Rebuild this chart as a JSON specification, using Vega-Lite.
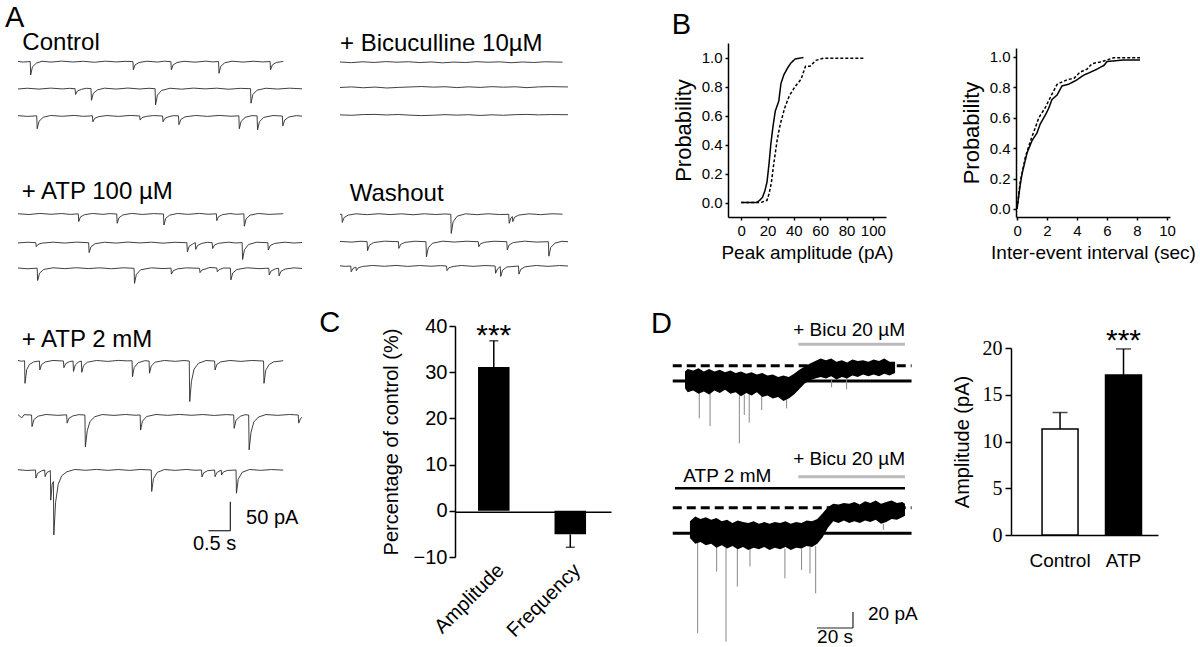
{
"$schema":"https://vega.github.io/schema/vega-lite/v6.json",
"width":1200,"height":647,"padding":0,"autosize":{"type":"none"},
"background":"white",
"config":{"font":"Liberation Sans","view":{"stroke":null},
 "axis":{"grid":false,"domainColor":"black","tickColor":"black","labelColor":"black","titleColor":"black","titleFontWeight":"normal","domainWidth":1.5,"tickWidth":1.5,"labelFlush":false,"labelOverlap":false}},
"datasets":{
"c1":[{"t":0,"v":0.5},{"t":0.12,"v":-0.6},{"t":0.28,"v":0.3},{"t":0.29,"v":-23},{"t":0.33,"v":-9},{"t":0.42,"v":-2.5},{"t":0.55,"v":0.8},{"t":0.75,"v":-0.7},{"t":1.0,"v":1.0},{"t":1.25,"v":-0.5},{"t":1.5,"v":0.7},{"t":1.75,"v":-1.0},{"t":2.0,"v":0.9},{"t":2.25,"v":-0.4},{"t":2.45,"v":0.6},{"t":2.63,"v":0.2},{"t":2.64,"v":-14},{"t":2.68,"v":-5.5},{"t":2.77,"v":-1.4},{"t":2.95,"v":0.8},{"t":3.2,"v":-0.6},{"t":3.35,"v":0.9},{"t":3.5,"v":0},{"t":3.51,"v":-14},{"t":3.55,"v":-5.5},{"t":3.64,"v":-1.4},{"t":3.8,"v":0.7},{"t":4.05,"v":-0.8},{"t":4.3,"v":1.0},{"t":4.45,"v":-0.3},{"t":4.59,"v":0.3},{"t":4.6,"v":-20},{"t":4.64,"v":-8},{"t":4.73,"v":-2},{"t":4.9,"v":0.9},{"t":5.15,"v":-0.7},{"t":5.4,"v":0.8},{"t":5.6,"v":-0.4},{"t":5.77,"v":0.3},{"t":5.78,"v":-14},{"t":5.82,"v":-5.5},{"t":5.91,"v":-1.4},{"t":6.07,"v":0.5}],
"c2":[{"t":0,"v":-0.5},{"t":0.2,"v":0.8},{"t":0.45,"v":-0.7},{"t":0.7,"v":1.0},{"t":0.95,"v":-0.4},{"t":1.1,"v":0.6},{"t":1.22,"v":0},{"t":1.23,"v":-10},{"t":1.27,"v":-4},{"t":1.36,"v":-1},{"t":1.46,"v":0.7},{"t":1.56,"v":0.2},{"t":1.57,"v":-20},{"t":1.61,"v":-8},{"t":1.7,"v":-2},{"t":1.85,"v":0.9},{"t":2.1,"v":-0.6},{"t":2.35,"v":1.1},{"t":2.6,"v":-0.5},{"t":2.8,"v":0.7},{"t":2.93,"v":0},{"t":2.94,"v":-28},{"t":2.98,"v":-11},{"t":3.07,"v":-3},{"t":3.25,"v":0.8},{"t":3.5,"v":-0.8},{"t":3.75,"v":1.0},{"t":4.0,"v":-0.3},{"t":4.25,"v":0.9},{"t":4.5,"v":-0.9},{"t":4.75,"v":0.6},{"t":4.97,"v":0},{"t":4.98,"v":-25},{"t":5.02,"v":-10},{"t":5.11,"v":-2.5},{"t":5.3,"v":0.8},{"t":5.55,"v":-0.6},{"t":5.8,"v":0.9},{"t":6.07,"v":-0.2}],
"c3":[{"t":0,"v":0.6},{"t":0.2,"v":-0.7},{"t":0.4,"v":0.3},{"t":0.41,"v":-22},{"t":0.45,"v":-9},{"t":0.54,"v":-2.2},{"t":0.7,"v":0.9},{"t":0.95,"v":-0.5},{"t":1.2,"v":1.0},{"t":1.4,"v":-0.6},{"t":1.59,"v":0.4},{"t":1.6,"v":-10},{"t":1.64,"v":-4},{"t":1.73,"v":-1},{"t":1.9,"v":0.8},{"t":2.15,"v":-0.7},{"t":2.4,"v":1.0},{"t":2.6,"v":0.1},{"t":2.61,"v":-7},{"t":2.65,"v":-2.8},{"t":2.74,"v":-0.7},{"t":2.9,"v":0.8},{"t":3.09,"v":0},{"t":3.1,"v":-10},{"t":3.14,"v":-4},{"t":3.23,"v":-1},{"t":3.33,"v":0.6},{"t":3.43,"v":0.2},{"t":3.44,"v":-15},{"t":3.48,"v":-6},{"t":3.57,"v":-1.5},{"t":3.8,"v":0.9},{"t":4.05,"v":-0.7},{"t":4.3,"v":1.0},{"t":4.55,"v":-0.4},{"t":4.72,"v":0.3},{"t":4.73,"v":-22},{"t":4.77,"v":-9},{"t":4.86,"v":-2.2},{"t":5.0,"v":0.7},{"t":5.11,"v":0.2},{"t":5.12,"v":-24},{"t":5.16,"v":-10},{"t":5.25,"v":-2.4},{"t":5.45,"v":0.8},{"t":5.65,"v":0},{"t":5.66,"v":-17},{"t":5.7,"v":-7},{"t":5.79,"v":-1.7},{"t":5.95,"v":0.7},{"t":6.07,"v":-0.3}],
"a1":[{"t":0,"v":0.4},{"t":0.25,"v":-0.9},{"t":0.5,"v":1.0},{"t":0.75,"v":-0.5},{"t":1.0,"v":0.8},{"t":1.2,"v":-0.7},{"t":1.38,"v":0.3},{"t":1.39,"v":-13},{"t":1.43,"v":-5},{"t":1.52,"v":-1.3},{"t":1.7,"v":0.9},{"t":1.95,"v":-0.6},{"t":2.1,"v":0.7},{"t":2.26,"v":0},{"t":2.27,"v":-16},{"t":2.31,"v":-6.5},{"t":2.4,"v":-1.6},{"t":2.6,"v":1.0},{"t":2.85,"v":-0.8},{"t":3.1,"v":0.7},{"t":3.33,"v":0},{"t":3.34,"v":-19},{"t":3.38,"v":-7.5},{"t":3.47,"v":-2},{"t":3.65,"v":0.9},{"t":3.9,"v":-0.6},{"t":4.15,"v":1.0},{"t":4.35,"v":-0.4},{"t":4.54,"v":0.3},{"t":4.55,"v":-11.5},{"t":4.59,"v":-4.6},{"t":4.68,"v":-1.2},{"t":4.85,"v":0.8},{"t":5.0,"v":-0.5},{"t":5.17,"v":0.2},{"t":5.18,"v":-21},{"t":5.22,"v":-8.5},{"t":5.31,"v":-2},{"t":5.5,"v":0.9},{"t":5.75,"v":-0.7},{"t":6.07,"v":0.5}],
"a2":[{"t":0,"v":-0.4},{"t":0.2,"v":0.8},{"t":0.38,"v":0},{"t":0.39,"v":-7},{"t":0.43,"v":-2.8},{"t":0.52,"v":-0.7},{"t":0.75,"v":0.9},{"t":1.0,"v":-0.6},{"t":1.25,"v":1.0},{"t":1.51,"v":0},{"t":1.52,"v":-17},{"t":1.56,"v":-7},{"t":1.65,"v":-1.7},{"t":1.85,"v":0.8},{"t":2.1,"v":-0.7},{"t":2.35,"v":1.1},{"t":2.6,"v":-0.4},{"t":2.85,"v":0.9},{"t":3.1,"v":-0.8},{"t":3.35,"v":0.7},{"t":3.61,"v":0},{"t":3.62,"v":-15.5},{"t":3.66,"v":-6},{"t":3.75,"v":-1.5},{"t":3.79,"v":0},{"t":3.8,"v":-11.5},{"t":3.84,"v":-4.6},{"t":3.93,"v":-1.2},{"t":4.05,"v":0.7},{"t":4.15,"v":0.1},{"t":4.16,"v":-10},{"t":4.2,"v":-4},{"t":4.29,"v":-1},{"t":4.5,"v":0.9},{"t":4.65,"v":-0.5},{"t":4.79,"v":0.2},{"t":4.8,"v":-29},{"t":4.84,"v":-12},{"t":4.93,"v":-3},{"t":5.1,"v":0.8},{"t":5.34,"v":0},{"t":5.35,"v":-12.6},{"t":5.39,"v":-5},{"t":5.48,"v":-1.3},{"t":5.7,"v":0.9},{"t":5.9,"v":-0.6},{"t":6.07,"v":0.4}],
"a3":[{"t":0,"v":0.5},{"t":0.2,"v":-0.8},{"t":0.41,"v":0.2},{"t":0.42,"v":-21},{"t":0.46,"v":-8.5},{"t":0.55,"v":-2},{"t":0.75,"v":0.9},{"t":1.0,"v":-0.6},{"t":1.25,"v":1.0},{"t":1.5,"v":-0.5},{"t":1.75,"v":0.8},{"t":2.0,"v":-0.8},{"t":2.25,"v":0.9},{"t":2.48,"v":0},{"t":2.49,"v":-26},{"t":2.53,"v":-10.5},{"t":2.62,"v":-2.6},{"t":2.85,"v":0.8},{"t":3.1,"v":-0.5},{"t":3.27,"v":0.3},{"t":3.28,"v":-10},{"t":3.32,"v":-4},{"t":3.41,"v":-1},{"t":3.6,"v":0.8},{"t":3.88,"v":0},{"t":3.89,"v":-7.5},{"t":3.93,"v":-3},{"t":4.02,"v":-0.8},{"t":4.1,"v":1.5},{"t":4.25,"v":0.5},{"t":4.26,"v":-6},{"t":4.3,"v":-2.4},{"t":4.39,"v":0.5},{"t":4.54,"v":0.3},{"t":4.55,"v":-20},{"t":4.59,"v":-8},{"t":4.68,"v":-2},{"t":4.9,"v":0.9},{"t":5.15,"v":-0.6},{"t":5.36,"v":0.2},{"t":5.37,"v":-11.5},{"t":5.41,"v":-4.6},{"t":5.5,"v":-1},{"t":5.57,"v":0},{"t":5.58,"v":-13},{"t":5.62,"v":-5.2},{"t":5.71,"v":-1.3},{"t":5.9,"v":0.8},{"t":6.07,"v":-0.3}],
"m1":[{"t":0,"v":1.0},{"t":0.08,"v":-0.5},{"t":0.15,"v":0.5},{"t":0.16,"v":-38.5},{"t":0.2,"v":-15},{"t":0.26,"v":-6},{"t":0.36,"v":-1.5},{"t":0.49,"v":0},{"t":0.5,"v":-15.5},{"t":0.54,"v":-6},{"t":0.63,"v":-1.5},{"t":0.8,"v":0.9},{"t":1.04,"v":0},{"t":1.05,"v":-11.5},{"t":1.09,"v":-4.6},{"t":1.18,"v":-1},{"t":1.26,"v":0},{"t":1.27,"v":-18},{"t":1.31,"v":-7},{"t":1.38,"v":-2},{"t":1.45,"v":0},{"t":1.46,"v":-19.5},{"t":1.5,"v":-8},{"t":1.59,"v":-2},{"t":1.8,"v":0.9},{"t":2.05,"v":-0.7},{"t":2.3,"v":1.0},{"t":2.5,"v":0.2},{"t":2.61,"v":0.5},{"t":2.62,"v":-27},{"t":2.66,"v":-11},{"t":2.75,"v":-3},{"t":2.9,"v":0.5},{"t":3.0,"v":0},{"t":3.01,"v":-21},{"t":3.05,"v":-8.5},{"t":3.14,"v":-2},{"t":3.35,"v":0.9},{"t":3.6,"v":-0.6},{"t":3.8,"v":0.8},{"t":3.92,"v":0},{"t":3.93,"v":-70},{"t":3.97,"v":-35},{"t":4.03,"v":-14},{"t":4.13,"v":-4},{"t":4.3,"v":0.8},{"t":4.5,"v":0},{"t":4.51,"v":-15.5},{"t":4.55,"v":-6},{"t":4.64,"v":-1.5},{"t":4.85,"v":0.9},{"t":5.1,"v":-0.7},{"t":5.35,"v":0.9},{"t":5.62,"v":0},{"t":5.63,"v":-38.5},{"t":5.67,"v":-16},{"t":5.75,"v":-6},{"t":5.85,"v":-1.5},{"t":6.07,"v":0.5}],
"m2":[{"t":0,"v":0.5},{"t":0.08,"v":-5},{"t":0.13,"v":0.5},{"t":0.29,"v":0},{"t":0.3,"v":-20},{"t":0.34,"v":-8},{"t":0.43,"v":-2},{"t":0.6,"v":0.9},{"t":0.85,"v":-0.6},{"t":1.04,"v":0.3},{"t":1.05,"v":-14},{"t":1.09,"v":-5.6},{"t":1.18,"v":-1.4},{"t":1.3,"v":0.6},{"t":1.43,"v":0},{"t":1.44,"v":-55},{"t":1.48,"v":-27},{"t":1.54,"v":-11},{"t":1.64,"v":-3},{"t":1.8,"v":0.8},{"t":2.05,"v":-0.7},{"t":2.3,"v":0.9},{"t":2.5,"v":-0.4},{"t":2.61,"v":0},{"t":2.62,"v":-26},{"t":2.66,"v":-10.5},{"t":2.75,"v":-2.6},{"t":2.95,"v":0.9},{"t":3.2,"v":-0.6},{"t":3.45,"v":1.0},{"t":3.7,"v":-0.5},{"t":3.95,"v":0.8},{"t":4.2,"v":-0.8},{"t":4.45,"v":0.7},{"t":4.61,"v":0},{"t":4.62,"v":-23},{"t":4.66,"v":-9},{"t":4.75,"v":-2.3},{"t":4.85,"v":0.5},{"t":4.93,"v":0},{"t":4.94,"v":-60},{"t":4.98,"v":-30},{"t":5.04,"v":-12},{"t":5.14,"v":-3.5},{"t":5.3,"v":0.8},{"t":5.55,"v":-0.6},{"t":5.8,"v":0.9},{"t":5.99,"v":0},{"t":6.0,"v":-14},{"t":6.04,"v":-6},{"t":6.07,"v":-4}],
"m3":[{"t":0,"v":0.5},{"t":0.2,"v":-0.8},{"t":0.4,"v":0},{"t":0.41,"v":-14},{"t":0.45,"v":-5.6},{"t":0.54,"v":-1.4},{"t":0.61,"v":0},{"t":0.62,"v":-11.5},{"t":0.66,"v":-4.6},{"t":0.74,"v":-1},{"t":0.75,"v":-52},{"t":0.78,"v":-25},{"t":0.81,"v":-20},{"t":0.82,"v":-112},{"t":0.86,"v":-56},{"t":0.92,"v":-25},{"t":1.0,"v":-10},{"t":1.12,"v":-3},{"t":1.3,"v":0.9},{"t":1.55,"v":-0.5},{"t":1.8,"v":1.0},{"t":2.05,"v":-0.6},{"t":2.3,"v":0.8},{"t":2.55,"v":-0.7},{"t":2.8,"v":0.9},{"t":3.05,"v":0},{"t":3.06,"v":-37},{"t":3.1,"v":-15},{"t":3.19,"v":-4},{"t":3.35,"v":0.8},{"t":3.6,"v":-0.6},{"t":3.85,"v":0.9},{"t":4.05,"v":-0.4},{"t":4.2,"v":0},{"t":4.21,"v":-12},{"t":4.25,"v":-4.8},{"t":4.34,"v":-1.2},{"t":4.5,"v":0},{"t":4.51,"v":-11.5},{"t":4.55,"v":-4.6},{"t":4.65,"v":0},{"t":4.66,"v":-8.6},{"t":4.7,"v":-3.4},{"t":4.79,"v":-0.8},{"t":4.99,"v":0},{"t":5.0,"v":-40},{"t":5.04,"v":-16},{"t":5.13,"v":-4},{"t":5.3,"v":0.9},{"t":5.55,"v":-0.6},{"t":5.8,"v":0.8},{"t":6.07,"v":-0.2}],
"k1":[{"t":0,"v":0.5},{"t":0.25,"v":-0.6},{"t":0.5,"v":0.9},{"t":0.75,"v":-0.3},{"t":1.0,"v":1.2},{"t":1.25,"v":0.2},{"t":1.5,"v":1.0},{"t":1.75,"v":-0.5},{"t":2.0,"v":0.6},{"t":2.25,"v":-0.9},{"t":2.5,"v":0.4},{"t":2.75,"v":-0.4},{"t":3.0,"v":1.1},{"t":3.25,"v":0.1},{"t":3.5,"v":0.8},{"t":3.75,"v":-0.7},{"t":4.0,"v":0.5},{"t":4.25,"v":-0.3},{"t":4.5,"v":0.9},{"t":4.88,"v":0.2}],
"k2":[{"t":0,"v":-0.3},{"t":0.25,"v":0.7},{"t":0.5,"v":-0.8},{"t":0.75,"v":0.4},{"t":1.0,"v":-1.2},{"t":1.25,"v":-0.2},{"t":1.5,"v":0.6},{"t":1.75,"v":1.3},{"t":2.0,"v":0.3},{"t":2.25,"v":1.0},{"t":2.5,"v":-0.5},{"t":2.75,"v":0.8},{"t":3.0,"v":-0.2},{"t":3.25,"v":1.1},{"t":3.5,"v":0.2},{"t":3.75,"v":0.9},{"t":4.0,"v":-0.6},{"t":4.25,"v":0.7},{"t":4.5,"v":1.2},{"t":4.88,"v":0.6}],
"k3":[{"t":0,"v":0.2},{"t":0.25,"v":-0.5},{"t":0.5,"v":0.8},{"t":0.75,"v":1.0},{"t":1.0,"v":0.1},{"t":1.25,"v":0.9},{"t":1.5,"v":-0.3},{"t":1.75,"v":-1.0},{"t":2.0,"v":-0.4},{"t":2.25,"v":0.6},{"t":2.5,"v":-0.2},{"t":2.75,"v":0.5},{"t":3.0,"v":-0.8},{"t":3.25,"v":0.3},{"t":3.5,"v":-0.5},{"t":3.75,"v":0.6},{"t":4.0,"v":1.0},{"t":4.25,"v":0.2},{"t":4.5,"v":0.8},{"t":4.88,"v":0.5}],
"w1":[{"t":0,"v":0},{"t":0.04,"v":0},{"t":0.05,"v":-14},{"t":0.09,"v":-5.6},{"t":0.18,"v":-1.4},{"t":0.35,"v":0.8},{"t":0.6,"v":-0.6},{"t":0.85,"v":1.0},{"t":1.1,"v":-0.5},{"t":1.35,"v":0.8},{"t":1.6,"v":-0.8},{"t":1.85,"v":0.9},{"t":2.1,"v":-0.4},{"t":2.3,"v":0.6},{"t":2.43,"v":0},{"t":2.44,"v":-33},{"t":2.48,"v":-13},{"t":2.57,"v":-3.3},{"t":2.75,"v":0.8},{"t":3.0,"v":-0.6},{"t":3.25,"v":0.9},{"t":3.5,"v":-0.4},{"t":3.7,"v":0},{"t":3.71,"v":-15.5},{"t":3.75,"v":-6},{"t":3.78,"v":-4},{"t":3.79,"v":-12.6},{"t":3.83,"v":-5},{"t":3.92,"v":-1.3},{"t":4.15,"v":0.8},{"t":4.4,"v":-0.6},{"t":4.65,"v":0.9},{"t":4.88,"v":0.2}],
"w2":[{"t":0,"v":0.5},{"t":0.25,"v":-0.7},{"t":0.45,"v":0.8},{"t":0.58,"v":0},{"t":0.59,"v":-15.5},{"t":0.63,"v":-6},{"t":0.72,"v":-1.5},{"t":0.95,"v":0.9},{"t":1.25,"v":0},{"t":1.26,"v":-11.5},{"t":1.3,"v":-4.6},{"t":1.39,"v":-1.2},{"t":1.6,"v":0.8},{"t":1.84,"v":0},{"t":1.85,"v":-26},{"t":1.89,"v":-10.5},{"t":1.98,"v":-2.6},{"t":2.2,"v":0.9},{"t":2.45,"v":-0.6},{"t":2.7,"v":0.8},{"t":2.96,"v":0},{"t":2.97,"v":-8.6},{"t":3.01,"v":-3.4},{"t":3.1,"v":-0.9},{"t":3.3,"v":0.8},{"t":3.57,"v":0},{"t":3.58,"v":-14},{"t":3.62,"v":-5.6},{"t":3.71,"v":-1.4},{"t":3.95,"v":0.9},{"t":4.2,"v":-0.6},{"t":4.46,"v":0},{"t":4.47,"v":-25},{"t":4.51,"v":-10},{"t":4.6,"v":-2.5},{"t":4.75,"v":0.7},{"t":4.88,"v":0}],
"w3":[{"t":0,"v":0.3},{"t":0.12,"v":-0.6},{"t":0.23,"v":0},{"t":0.24,"v":-10},{"t":0.28,"v":-4},{"t":0.34,"v":-2},{"t":0.35,"v":-8},{"t":0.39,"v":-3.2},{"t":0.48,"v":-0.8},{"t":0.7,"v":0.9},{"t":0.95,"v":-0.5},{"t":1.2,"v":1.0},{"t":1.45,"v":-0.7},{"t":1.7,"v":0.8},{"t":1.95,"v":-0.4},{"t":2.15,"v":0.6},{"t":2.28,"v":0},{"t":2.29,"v":-8},{"t":2.33,"v":-3.2},{"t":2.42,"v":-0.8},{"t":2.6,"v":0.9},{"t":2.85,"v":-0.6},{"t":3.1,"v":0.8},{"t":3.32,"v":0},{"t":3.33,"v":-12.6},{"t":3.37,"v":-5},{"t":3.43,"v":-1},{"t":3.44,"v":-18},{"t":3.48,"v":-7},{"t":3.57,"v":-1.8},{"t":3.82,"v":0},{"t":3.83,"v":-14},{"t":3.87,"v":-5.6},{"t":3.96,"v":-1.4},{"t":4.2,"v":0.9},{"t":4.45,"v":-0.6},{"t":4.7,"v":0.8},{"t":4.88,"v":0}],
"bamp":[{"x":0,"p":0,"g":"Control"},{"x":11.7,"p":0,"g":"Control"},{"x":14,"p":0.015,"g":"Control"},{"x":16.2,"p":0.036,"g":"Control"},{"x":18,"p":0.08,"g":"Control"},{"x":19.6,"p":0.14,"g":"Control"},{"x":21.2,"p":0.27,"g":"Control"},{"x":22.5,"p":0.4,"g":"Control"},{"x":24.1,"p":0.52,"g":"Control"},{"x":25.9,"p":0.63,"g":"Control"},{"x":28.6,"p":0.7,"g":"Control"},{"x":30.2,"p":0.82,"g":"Control"},{"x":32.4,"p":0.88,"g":"Control"},{"x":35.4,"p":0.93,"g":"Control"},{"x":37.6,"p":0.96,"g":"Control"},{"x":41,"p":0.99,"g":"Control"},{"x":47.3,"p":1.0,"g":"Control"},
{"x":0,"p":0,"g":"ATP"},{"x":15,"p":0,"g":"ATP"},{"x":19.6,"p":0.015,"g":"ATP"},{"x":21.2,"p":0.06,"g":"ATP"},{"x":23,"p":0.14,"g":"ATP"},{"x":24.8,"p":0.27,"g":"ATP"},{"x":27.5,"p":0.44,"g":"ATP"},{"x":29.7,"p":0.54,"g":"ATP"},{"x":33,"p":0.65,"g":"ATP"},{"x":36.5,"p":0.735,"g":"ATP"},{"x":41,"p":0.8,"g":"ATP"},{"x":45.5,"p":0.85,"g":"ATP"},{"x":48.9,"p":0.94,"g":"ATP"},{"x":52.3,"p":0.94,"g":"ATP"},{"x":56.8,"p":0.98,"g":"ATP"},{"x":62.4,"p":0.995,"g":"ATP"},{"x":94,"p":0.995,"g":"ATP"}],
"biei":[{"x":0,"p":0,"g":"Control"},{"x":0.2,"p":0.15,"g":"Control"},{"x":0.33,"p":0.23,"g":"Control"},{"x":0.67,"p":0.37,"g":"Control"},{"x":1,"p":0.45,"g":"Control"},{"x":1.33,"p":0.5,"g":"Control"},{"x":1.55,"p":0.56,"g":"Control"},{"x":1.9,"p":0.62,"g":"Control"},{"x":2.1,"p":0.66,"g":"Control"},{"x":2.33,"p":0.72,"g":"Control"},{"x":2.67,"p":0.75,"g":"Control"},{"x":3,"p":0.81,"g":"Control"},{"x":3.44,"p":0.82,"g":"Control"},{"x":4,"p":0.85,"g":"Control"},{"x":4.44,"p":0.88,"g":"Control"},{"x":4.9,"p":0.9,"g":"Control"},{"x":5.33,"p":0.92,"g":"Control"},{"x":5.8,"p":0.945,"g":"Control"},{"x":6,"p":0.97,"g":"Control"},{"x":7.1,"p":0.98,"g":"Control"},{"x":8.2,"p":0.98,"g":"Control"},
{"x":0,"p":0,"g":"ATP"},{"x":0.2,"p":0.17,"g":"ATP"},{"x":0.55,"p":0.34,"g":"ATP"},{"x":0.9,"p":0.45,"g":"ATP"},{"x":1.2,"p":0.53,"g":"ATP"},{"x":1.45,"p":0.6,"g":"ATP"},{"x":1.9,"p":0.67,"g":"ATP"},{"x":2.3,"p":0.75,"g":"ATP"},{"x":2.67,"p":0.82,"g":"ATP"},{"x":3.33,"p":0.85,"g":"ATP"},{"x":3.8,"p":0.86,"g":"ATP"},{"x":4.2,"p":0.9,"g":"ATP"},{"x":4.67,"p":0.92,"g":"ATP"},{"x":5,"p":0.956,"g":"ATP"},{"x":5.55,"p":0.967,"g":"ATP"},{"x":6,"p":0.98,"g":"ATP"},{"x":6.45,"p":0.995,"g":"ATP"},{"x":8.2,"p":0.995,"g":"ATP"}],
"cbar":[{"m":"Amplitude","val":31.1,"err":36.8},{"m":"Frequency","val":-5.1,"err":-7.9}],
"dbar":[{"g":"Control","val":11.35,"err":13.1},{"g":"ATP","val":17.1,"err":19.9}],
"d1":[{"t":0,"lo":-9,"hi":12},{"t":1.5,"lo":-14,"hi":15},{"t":4.5,"lo":-12,"hi":13},{"t":7.4,"lo":-16,"hi":16},{"t":10.3,"lo":-13,"hi":12},{"t":13.2,"lo":-17,"hi":15},{"t":16.1,"lo":-12,"hi":12},{"t":19,"lo":-15,"hi":14},{"t":21.9,"lo":-11,"hi":11},{"t":24.8,"lo":-16,"hi":13},{"t":27.7,"lo":-14,"hi":10},{"t":30.6,"lo":-19,"hi":12},{"t":33.5,"lo":-15,"hi":9},{"t":36.4,"lo":-18,"hi":11},{"t":39.3,"lo":-14,"hi":8},{"t":42.2,"lo":-20,"hi":10},{"t":45.1,"lo":-18,"hi":7},{"t":48,"lo":-22,"hi":8},{"t":50.9,"lo":-20,"hi":5},{"t":53.8,"lo":-25,"hi":7},{"t":56.7,"lo":-22,"hi":5},{"t":59.6,"lo":-17,"hi":9},{"t":62.5,"lo":-10,"hi":14},{"t":65.4,"lo":-3,"hi":18},{"t":68.3,"lo":1,"hi":22},{"t":71.2,"lo":3,"hi":25},{"t":74.1,"lo":5,"hi":28},{"t":77,"lo":3,"hi":26},{"t":79.9,"lo":6,"hi":28},{"t":82.8,"lo":2,"hi":24},{"t":85.7,"lo":5,"hi":26},{"t":88.6,"lo":3,"hi":23},{"t":91.5,"lo":7,"hi":27},{"t":94.4,"lo":5,"hi":25},{"t":97.3,"lo":8,"hi":26},{"t":100.2,"lo":6,"hi":24},{"t":103.1,"lo":8,"hi":27},{"t":106,"lo":6,"hi":25},{"t":108.9,"lo":9,"hi":28},{"t":111.8,"lo":7,"hi":24},{"t":114.8,"lo":10,"hi":24}],
"d1s":[{"t":7.8,"a":-14,"b":-46.7},{"t":13.7,"a":-15,"b":-56.3},{"t":29.7,"a":-17,"b":-77.9},{"t":32.4,"a":-17,"b":-42.5},{"t":35.1,"a":-16,"b":-52},{"t":41.9,"a":-19,"b":-36.3},{"t":55.5,"a":-23,"b":-34.2},{"t":80.1,"a":3,"b":-7.9},{"t":88.3,"a":4,"b":-10.4}],
"d2":[{"t":2.7,"lo":-6,"hi":15},{"t":5.6,"lo":-13,"hi":21},{"t":8.5,"lo":-11,"hi":18},{"t":11.4,"lo":-15,"hi":20},{"t":14.3,"lo":-13,"hi":17},{"t":17.2,"lo":-18,"hi":19},{"t":20.1,"lo":-15,"hi":15},{"t":23,"lo":-19,"hi":17},{"t":25.9,"lo":-16,"hi":13},{"t":28.8,"lo":-20,"hi":16},{"t":31.7,"lo":-17,"hi":14},{"t":34.6,"lo":-21,"hi":13},{"t":37.5,"lo":-18,"hi":15},{"t":40.4,"lo":-20,"hi":12},{"t":43.3,"lo":-17,"hi":14},{"t":46.2,"lo":-21,"hi":12},{"t":49.1,"lo":-18,"hi":14},{"t":52,"lo":-20,"hi":13},{"t":54.9,"lo":-17,"hi":15},{"t":57.8,"lo":-21,"hi":12},{"t":60.7,"lo":-18,"hi":14},{"t":63.6,"lo":-19,"hi":13},{"t":66.5,"lo":-16,"hi":16},{"t":69.4,"lo":-17,"hi":15},{"t":72.3,"lo":-13,"hi":18},{"t":75.2,"lo":-5,"hi":25},{"t":78.1,"lo":7,"hi":33},{"t":81,"lo":15,"hi":37},{"t":83.9,"lo":13,"hi":36},{"t":86.8,"lo":16,"hi":38},{"t":89.7,"lo":13,"hi":37},{"t":92.6,"lo":15,"hi":39},{"t":95.5,"lo":13,"hi":36},{"t":98.4,"lo":16,"hi":40},{"t":101.3,"lo":14,"hi":38},{"t":104.2,"lo":17,"hi":41},{"t":107.1,"lo":12,"hi":37},{"t":110,"lo":14,"hi":39},{"t":112.9,"lo":18,"hi":41},{"t":115.8,"lo":17,"hi":38},{"t":118.7,"lo":20,"hi":39},{"t":120.2,"lo":22,"hi":37}],
"d2s":[{"t":6.9,"a":-12,"b":-125},{"t":17.3,"a":-17,"b":-47.9},{"t":22.4,"a":-18,"b":-135.4},{"t":28.6,"a":-19,"b":-66.6},{"t":35.5,"a":-20,"b":-41.6},{"t":54.6,"a":-19,"b":-56.2},{"t":63.7,"a":-19,"b":-45.8},{"t":68.3,"a":-17,"b":-50},{"t":71.4,"a":-16,"b":-75},{"t":108.4,"a":12,"b":4.2}]
},
"resolve":{"scale":{"x":"independent","y":"independent"},"axis":{"x":"independent","y":"independent"}},
"layer":[
{"layer":[
 {"data":{"name":"c1"},"mark":{"type":"line","color":"#2a2a2a","strokeWidth":0.9},"encoding":{"x":{"field":"t","type":"quantitative","scale":{"domain":[0,6.07],"range":[18,302]},"axis":null},"y":{"field":"v","type":"quantitative","scale":{"domain":[-100,0],"range":[119.7,61.7]},"axis":null}}},
 {"data":{"values":[{}]},"mark":{"type":"text","text":"A","fontSize":29,"align":"left","baseline":"alphabetic"},"encoding":{"x":{"datum":-0.3,"type":"quantitative"},"y":{"datum":59.8,"type":"quantitative"}}},
 {"data":{"values":[{}]},"mark":{"type":"text","text":"Control","fontSize":24,"align":"left","baseline":"alphabetic"},"encoding":{"x":{"datum":0.1,"type":"quantitative"},"y":{"datum":20.2,"type":"quantitative"}}}
]},
{"data":{"name":"c2"},"mark":{"type":"line","color":"#2a2a2a","strokeWidth":0.9},"encoding":{"x":{"field":"t","type":"quantitative","scale":{"domain":[0,6.07],"range":[18,302]},"axis":null},"y":{"field":"v","type":"quantitative","scale":{"domain":[-100,0],"range":[146.7,88.7]},"axis":null}}},
{"data":{"name":"c3"},"mark":{"type":"line","color":"#2a2a2a","strokeWidth":0.9},"encoding":{"x":{"field":"t","type":"quantitative","scale":{"domain":[0,6.07],"range":[18,302]},"axis":null},"y":{"field":"v","type":"quantitative","scale":{"domain":[-100,0],"range":[174,116]},"axis":null}}},
{"layer":[
 {"data":{"name":"k1"},"mark":{"type":"line","color":"#2a2a2a","strokeWidth":0.9},"encoding":{"x":{"field":"t","type":"quantitative","scale":{"domain":[0,4.88],"range":[340,568]},"axis":null},"y":{"field":"v","type":"quantitative","scale":{"domain":[-100,0],"range":[120.3,62.3]},"axis":null}}},
 {"data":{"values":[{}]},"mark":{"type":"text","text":"+ Bicuculline 10µM","fontSize":24,"align":"left","baseline":"alphabetic"},"encoding":{"x":{"datum":0,"type":"quantitative"},"y":{"datum":19.5,"type":"quantitative"}}}
]},
{"data":{"name":"k2"},"mark":{"type":"line","color":"#2a2a2a","strokeWidth":0.9},"encoding":{"x":{"field":"t","type":"quantitative","scale":{"domain":[0,4.88],"range":[340,568]},"axis":null},"y":{"field":"v","type":"quantitative","scale":{"domain":[-100,0],"range":[145.3,87.3]},"axis":null}}},
{"data":{"name":"k3"},"mark":{"type":"line","color":"#2a2a2a","strokeWidth":0.9},"encoding":{"x":{"field":"t","type":"quantitative","scale":{"domain":[0,4.88],"range":[340,568]},"axis":null},"y":{"field":"v","type":"quantitative","scale":{"domain":[-100,0],"range":[173,115]},"axis":null}}},
{"layer":[
 {"data":{"name":"a1"},"mark":{"type":"line","color":"#2a2a2a","strokeWidth":0.9},"encoding":{"x":{"field":"t","type":"quantitative","scale":{"domain":[0,6.07],"range":[18,302]},"axis":null},"y":{"field":"v","type":"quantitative","scale":{"domain":[-100,0],"range":[272,214]},"axis":null}}},
 {"data":{"values":[{}]},"mark":{"type":"text","text":"+ ATP 100 µM","fontSize":24,"align":"left","baseline":"alphabetic"},"encoding":{"x":{"datum":0.086,"type":"quantitative"},"y":{"datum":25.9,"type":"quantitative"}}}
]},
{"data":{"name":"a2"},"mark":{"type":"line","color":"#2a2a2a","strokeWidth":0.9},"encoding":{"x":{"field":"t","type":"quantitative","scale":{"domain":[0,6.07],"range":[18,302]},"axis":null},"y":{"field":"v","type":"quantitative","scale":{"domain":[-100,0],"range":[300.7,242.7]},"axis":null}}},
{"data":{"name":"a3"},"mark":{"type":"line","color":"#2a2a2a","strokeWidth":0.9},"encoding":{"x":{"field":"t","type":"quantitative","scale":{"domain":[0,6.07],"range":[18,302]},"axis":null},"y":{"field":"v","type":"quantitative","scale":{"domain":[-100,0],"range":[326.3,268.3]},"axis":null}}},
{"layer":[
 {"data":{"name":"w1"},"mark":{"type":"line","color":"#2a2a2a","strokeWidth":0.9},"encoding":{"x":{"field":"t","type":"quantitative","scale":{"domain":[0,4.88],"range":[340,568]},"axis":null},"y":{"field":"v","type":"quantitative","scale":{"domain":[-100,0],"range":[272.3,214.3]},"axis":null}}},
 {"data":{"values":[{}]},"mark":{"type":"text","text":"Washout","fontSize":24,"align":"left","baseline":"alphabetic"},"encoding":{"x":{"datum":0.214,"type":"quantitative"},"y":{"datum":22.9,"type":"quantitative"}}}
]},
{"data":{"name":"w2"},"mark":{"type":"line","color":"#2a2a2a","strokeWidth":0.9},"encoding":{"x":{"field":"t","type":"quantitative","scale":{"domain":[0,4.88],"range":[340,568]},"axis":null},"y":{"field":"v","type":"quantitative","scale":{"domain":[-100,0],"range":[299.7,241.7]},"axis":null}}},
{"data":{"name":"w3"},"mark":{"type":"line","color":"#2a2a2a","strokeWidth":0.9},"encoding":{"x":{"field":"t","type":"quantitative","scale":{"domain":[0,4.88],"range":[340,568]},"axis":null},"y":{"field":"v","type":"quantitative","scale":{"domain":[-100,0],"range":[324,266]},"axis":null}}},
{"layer":[
 {"data":{"name":"m1"},"mark":{"type":"line","color":"#2a2a2a","strokeWidth":0.9},"encoding":{"x":{"field":"t","type":"quantitative","scale":{"domain":[0,6.07],"range":[18,302]},"axis":null},"y":{"field":"v","type":"quantitative","scale":{"domain":[-100,0],"range":[419,361]},"axis":null}}},
 {"data":{"values":[{}]},"mark":{"type":"text","text":"+ ATP 2 mM","fontSize":24,"align":"left","baseline":"alphabetic"},"encoding":{"x":{"datum":0.086,"type":"quantitative"},"y":{"datum":24.1,"type":"quantitative"}}},
 {"data":{"values":[{}]},"mark":{"type":"text","text":"C","fontSize":29,"align":"left","baseline":"alphabetic"},"encoding":{"x":{"datum":6.895,"type":"quantitative"},"y":{"datum":50,"type":"quantitative"}}}
]},
{"data":{"name":"m2"},"mark":{"type":"line","color":"#2a2a2a","strokeWidth":0.9},"encoding":{"x":{"field":"t","type":"quantitative","scale":{"domain":[0,6.07],"range":[18,302]},"axis":null},"y":{"field":"v","type":"quantitative","scale":{"domain":[-100,0],"range":[473,415]},"axis":null}}},
{"layer":[
 {"data":{"name":"m3"},"mark":{"type":"line","color":"#2a2a2a","strokeWidth":0.9},"encoding":{"x":{"field":"t","type":"quantitative","scale":{"domain":[0,6.07],"range":[18,302]},"axis":null},"y":{"field":"v","type":"quantitative","scale":{"domain":[-100,0],"range":[528,470]},"axis":null}}},
 {"data":{"values":[{}]},"mark":{"type":"rule","color":"#222","strokeWidth":1.2},"encoding":{"x":{"datum":4.86,"type":"quantitative"},"y":{"datum":-54.7,"type":"quantitative"},"y2":{"datum":-104.7}}},
 {"data":{"values":[{}]},"mark":{"type":"rule","color":"#222","strokeWidth":1.2},"encoding":{"x":{"datum":4.36,"type":"quantitative"},"x2":{"datum":4.86},"y":{"datum":-104.7,"type":"quantitative"}}},
 {"data":{"values":[{}]},"mark":{"type":"text","text":"50 pA","fontSize":20,"align":"left","baseline":"middle"},"encoding":{"x":{"datum":5.22,"type":"quantitative"},"y":{"datum":-82.8,"type":"quantitative"}}},
 {"data":{"values":[{}]},"mark":{"type":"text","text":"0.5 s","fontSize":20,"align":"center","baseline":"alphabetic"},"encoding":{"x":{"datum":4.5,"type":"quantitative"},"y":{"datum":-138,"type":"quantitative"}}}
]},
{"layer":[
 {"data":{"name":"bamp"},"mark":{"type":"line","color":"black","strokeWidth":1.5},"encoding":{
   "x":{"field":"x","type":"quantitative","scale":{"domain":[-0.7,106.1],"range":[728,886]},"axis":{"orient":"bottom","offset":-430,"values":[0,20,40,60,80,100],"title":"Peak amplitude (pA)","labelFontSize":15,"titleFontSize":19,"tickSize":3,"labelPadding":3,"titlePadding":5}},
   "y":{"field":"p","type":"quantitative","scale":{"domain":[-0.051,1.057],"range":[217,43]},"axis":{"orient":"left","offset":-728,"values":[0,0.2,0.4,0.6,0.8,1],"format":".1f","title":"Probability","labelFontSize":15,"titleFontSize":22,"tickSize":3,"labelPadding":3,"titlePadding":6}},
   "strokeDash":{"field":"g","type":"nominal","scale":{"domain":["Control","ATP"],"range":[[1,0],[3,2]]},"legend":null}}},
 {"data":{"values":[{}]},"mark":{"type":"text","text":"B","fontSize":29,"align":"left","baseline":"alphabetic"},"encoding":{"x":{"datum":-52.7,"type":"quantitative"},"y":{"datum":1.159,"type":"quantitative"}}}
]},
{"data":{"name":"biei"},"mark":{"type":"line","color":"black","strokeWidth":1.5},"encoding":{
   "x":{"field":"x","type":"quantitative","scale":{"domain":[-0.07,10.2],"range":[1016,1170]},"axis":{"orient":"bottom","offset":-430,"values":[0,2,4,6,8,10],"title":"Inter-event interval (sec)","labelFontSize":15,"titleFontSize":19,"tickSize":3,"labelPadding":3,"titlePadding":5}},
   "y":{"field":"p","type":"quantitative","scale":{"domain":[-0.053,1.059],"range":[217,48]},"axis":{"orient":"left","offset":-1016,"values":[0,0.2,0.4,0.6,0.8,1],"format":".1f","title":"Probability","labelFontSize":15,"titleFontSize":22,"tickSize":3,"labelPadding":3,"titlePadding":6}},
   "strokeDash":{"field":"g","type":"nominal","scale":{"domain":["Control","ATP"],"range":[[1,0],[3,2]]},"legend":null}}},
{"layer":[
 {"data":{"name":"cbar"},"mark":{"type":"bar","color":"black"},"encoding":{
   "x":{"field":"m","type":"nominal","scale":{"domain":["Amplitude","Frequency"],"range":[455,611],"paddingInner":0.588,"paddingOuter":0.3136,"align":0.48},"axis":{"orient":"bottom","offset":-135.3,"labelAngle":-45,"ticks":false,"labelPadding":48,"title":null,"labelFontSize":20}},
   "y":{"field":"val","type":"quantitative","scale":{"domain":[-10,40],"range":[557,326]},"axis":{"orient":"left","offset":-455,"values":[-10,0,10,20,30,40],"title":"Percentage of control (%)","labelFontSize":20,"titleFontSize":20,"tickSize":6,"labelPadding":2,"titlePadding":12}}}},
 {"data":{"name":"cbar"},"mark":{"type":"rule","color":"black","strokeWidth":1.5},"encoding":{"x":{"field":"m","type":"nominal"},"y":{"field":"val","type":"quantitative"},"y2":{"field":"err"}}},
 {"data":{"name":"cbar"},"mark":{"type":"tick","color":"black","thickness":1.5,"size":9},"encoding":{"x":{"field":"m","type":"nominal"},"y":{"field":"err","type":"quantitative"}}},
 {"data":{"values":[{}]},"mark":{"type":"text","text":"***","fontSize":30,"align":"center","baseline":"alphabetic"},"encoding":{"x":{"datum":"Amplitude","type":"nominal"},"y":{"datum":35.9,"type":"quantitative"}}}
]},
{"layer":[
 {"data":{"values":[{}]},"mark":{"type":"rule","color":"black","strokeWidth":3},"encoding":{"x":{"datum":-6.7,"type":"quantitative","scale":{"domain":[0,100],"range":[685,868]},"axis":null},"x2":{"datum":123.8},"y":{"datum":0,"type":"quantitative","scale":{"domain":[0,50],"range":[381,341]},"axis":null}}},
 {"data":{"values":[{}]},"mark":{"type":"rule","color":"black","strokeWidth":3,"strokeDash":[9,5]},"encoding":{"x":{"datum":-6.7,"type":"quantitative"},"x2":{"datum":123.8},"y":{"datum":19,"type":"quantitative"}}},
 {"data":{"name":"d1s"},"mark":{"type":"rule","color":"#888","strokeWidth":1},"encoding":{"x":{"field":"t","type":"quantitative"},"y":{"field":"a","type":"quantitative"},"y2":{"field":"b"}}},
 {"data":{"name":"d1"},"mark":{"type":"area","color":"black","opacity":1},"encoding":{"x":{"field":"t","type":"quantitative"},"y":{"field":"lo","type":"quantitative"},"y2":{"field":"hi"}}},
 {"data":{"values":[{}]},"mark":{"type":"rule","color":"#bbbbbb","strokeWidth":3},"encoding":{"x":{"datum":61.9,"type":"quantitative"},"x2":{"datum":120.2},"y":{"datum":45.8,"type":"quantitative"}}},
 {"data":{"values":[{}]},"mark":{"type":"text","text":"+ Bicu 20 µM","fontSize":19,"align":"right","baseline":"alphabetic"},"encoding":{"x":{"datum":120.2,"type":"quantitative"},"y":{"datum":56,"type":"quantitative"}}},
 {"data":{"values":[{}]},"mark":{"type":"text","text":"D","fontSize":29,"align":"left","baseline":"alphabetic"},"encoding":{"x":{"datum":-18.6,"type":"quantitative"},"y":{"datum":60,"type":"quantitative"}}}
]},
{"layer":[
 {"data":{"values":[{}]},"mark":{"type":"rule","color":"black","strokeWidth":3},"encoding":{"x":{"datum":-6.7,"type":"quantitative","scale":{"domain":[0,100],"range":[685,868]},"axis":null},"x2":{"datum":123.8},"y":{"datum":0,"type":"quantitative","scale":{"domain":[0,50],"range":[533.3,493.3]},"axis":null}}},
 {"data":{"values":[{}]},"mark":{"type":"rule","color":"black","strokeWidth":3,"strokeDash":[9,5]},"encoding":{"x":{"datum":-6.7,"type":"quantitative"},"x2":{"datum":123.8},"y":{"datum":32,"type":"quantitative"}}},
 {"data":{"name":"d2s"},"mark":{"type":"rule","color":"#888","strokeWidth":1},"encoding":{"x":{"field":"t","type":"quantitative"},"y":{"field":"a","type":"quantitative"},"y2":{"field":"b"}}},
 {"data":{"name":"d2"},"mark":{"type":"area","color":"black","opacity":1},"encoding":{"x":{"field":"t","type":"quantitative"},"y":{"field":"lo","type":"quantitative"},"y2":{"field":"hi"}}},
 {"data":{"values":[{}]},"mark":{"type":"rule","color":"black","strokeWidth":2.5},"encoding":{"x":{"datum":-5.5,"type":"quantitative"},"x2":{"datum":120.2},"y":{"datum":56.25,"type":"quantitative"}}},
 {"data":{"values":[{}]},"mark":{"type":"rule","color":"#bbbbbb","strokeWidth":3},"encoding":{"x":{"datum":61.9,"type":"quantitative"},"x2":{"datum":120.2},"y":{"datum":70.8,"type":"quantitative"}}},
 {"data":{"values":[{}]},"mark":{"type":"text","text":"+ Bicu 20 µM","fontSize":19,"align":"right","baseline":"alphabetic"},"encoding":{"x":{"datum":120.2,"type":"quantitative"},"y":{"datum":85.4,"type":"quantitative"}}},
 {"data":{"values":[{}]},"mark":{"type":"text","text":"ATP 2 mM","fontSize":19,"align":"left","baseline":"alphabetic"},"encoding":{"x":{"datum":-0.9,"type":"quantitative"},"y":{"datum":64.6,"type":"quantitative"}}},
 {"data":{"values":[{}]},"mark":{"type":"rule","color":"#222","strokeWidth":1.2},"encoding":{"x":{"datum":91.8,"type":"quantitative"},"y":{"datum":-118.4,"type":"quantitative"},"y2":{"datum":-98.4}}},
 {"data":{"values":[{}]},"mark":{"type":"rule","color":"#222","strokeWidth":1.2},"encoding":{"x":{"datum":72.1,"type":"quantitative"},"x2":{"datum":91.8},"y":{"datum":-118.4,"type":"quantitative"}}},
 {"data":{"values":[{}]},"mark":{"type":"text","text":"20 pA","fontSize":19,"align":"left","baseline":"middle"},"encoding":{"x":{"datum":100,"type":"quantitative"},"y":{"datum":-101,"type":"quantitative"}}},
 {"data":{"values":[{}]},"mark":{"type":"text","text":"20 s","fontSize":19,"align":"center","baseline":"alphabetic"},"encoding":{"x":{"datum":82,"type":"quantitative"},"y":{"datum":-137.5,"type":"quantitative"}}}
]},
{"layer":[
 {"data":{"name":"dbar"},"mark":{"type":"bar","stroke":"black","strokeWidth":1.5},"encoding":{
   "x":{"field":"g","type":"nominal","scale":{"domain":["Control","ATP"],"range":[1011,1158],"paddingInner":0.433,"paddingOuter":0.3745,"align":0.653},"axis":{"orient":"bottom","offset":-112,"labelAngle":0,"ticks":false,"labelPadding":16,"title":null,"labelFontSize":19}},
   "y":{"field":"val","type":"quantitative","scale":{"domain":[0,20],"range":[535,348]},"axis":{"orient":"left","offset":-1011,"values":[0,5,10,15,20],"title":"Amplitude (pA)","labelFont":"Liberation Serif","labelFontSize":20,"titleFontSize":20,"tickSize":6,"labelPadding":3,"titlePadding":10}},
   "color":{"field":"g","type":"nominal","scale":{"domain":["Control","ATP"],"range":["white","black"]},"legend":null}}},
 {"data":{"name":"dbar"},"mark":{"type":"rule","color":"black","strokeWidth":1.5},"encoding":{"x":{"field":"g","type":"nominal"},"y":{"field":"val","type":"quantitative"},"y2":{"field":"err"}}},
 {"data":{"name":"dbar"},"mark":{"type":"tick","color":"black","thickness":1.5,"size":15},"encoding":{"x":{"field":"g","type":"nominal"},"y":{"field":"err","type":"quantitative"}}},
 {"data":{"values":[{}]},"mark":{"type":"text","text":"***","fontSize":30,"align":"center","baseline":"alphabetic"},"encoding":{"x":{"datum":"ATP","type":"nominal"},"y":{"datum":19.8,"type":"quantitative"}}}
]}
]
}
